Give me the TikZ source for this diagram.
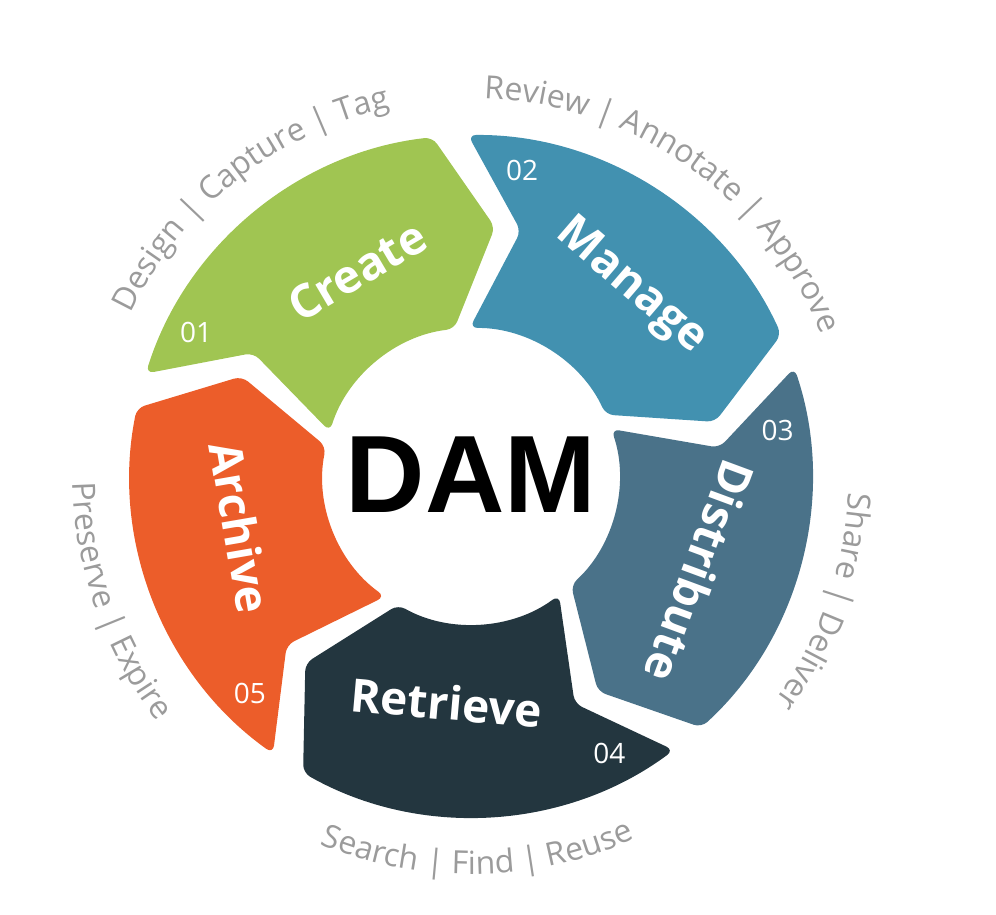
\documentclass[tikz,border=0pt]{standalone}
\usepackage{fontspec}
\setmainfont{Open Sans}
\newfontfamily\damfont{Liberation Sans}
\usetikzlibrary{decorations.text}
\definecolor{createc}{HTML}{A0C552}
\definecolor{managec}{HTML}{4291B0}
\definecolor{distc}{HTML}{4A7289}
\definecolor{retrc}{HTML}{23363F}
\definecolor{archc}{HTML}{EC5D2A}
\definecolor{labelgray}{HTML}{9B9B9B}
\newcommand\graylabel{\fontsize{32}{36}\selectfont}

\begin{document}
\begin{tikzpicture}[x=1pt,y=1pt,line join=round,
  seglabel/.style={text=white,font=\bfseries\fontsize{46}{50}\selectfont},
  numlabel/.style={text=white,font=\fontsize{28}{30}\selectfont},
  outerlabel/.style={decorate,decoration={text along path,text align=center,text color=labelgray}}]
  \useasboundingbox (-471,-438) rectangle (525,476);
  % ring segments, clockwise from Create
  \foreach \name/\col [count=\k from 0] in {create/createc,manage/managec,distribute/distc,retrieve/retrc,archive/archc}{
    \pgfmathsetmacro\s{162.5-72*\k}
    \pgfmathsetmacro\e{\s-66}
    \fill[\col,rounded corners=8pt] (\s:341) arc[start angle=\s,end angle=\e,radius=341] -- (\e-12:250) -- (\e:148)
      arc[start angle=\e,end angle=\s,radius=148] -- (\s-12:250) -- cycle;
    \pgfmathtruncatemacro\num{\k+1}
    \node[numlabel] (n\name) at (\s-10:310) {0\num};
  }
  \node[font=\damfont\bfseries\fontsize{110}{110}\selectfont,anchor=base] (dam) at (0,-36) {DAM};
  % step names
  \node[seglabel,rotate=30.6] (lcreate) at (-114,205) {Create};
  \node[seglabel,rotate=-40.7] (lmanage) at (160,189) {Manage};
  \node[seglabel,rotate=-110.3] (ldistribute) at (229,-95) {Distribute};
  \node[seglabel,rotate=-5] (lretrieve) at (-24.5,-226.5) {Retrieve};
  \node[seglabel,rotate=-80.2] (larchive) at (-230.5,-51.5) {Archive};
  % outer captions
  \path[outerlabel,decoration={text={|\graylabel|Design {\textbar} Capture {\textbar} Tag}}]
    (178.4:377) arc[start angle=178.4,end angle=78.4,radius=377];
  \path[outerlabel,decoration={text={|\graylabel|Review {\textbar} Annotate {\textbar} Approve}}]
    (105:378) arc[start angle=105,end angle=5,radius=378];
  \path[outerlabel,decoration={text={|\graylabel|Share {\textbar} Deliver}}]
    (30.5:378) arc[start angle=30.5,end angle=-69.5,radius=378];
  \path[outerlabel,decoration={text={|\graylabel|Search {\textbar} Find {\textbar} Reuse}}]
    (-139:398) arc[start angle=-139,end angle=-39,radius=398];
  \path[outerlabel,decoration={text={|\graylabel|Preserve {\textbar} Expire}}]
    (149.5:398) arc[start angle=149.5,end angle=249.5,radius=398];
\end{tikzpicture}
\end{document}
